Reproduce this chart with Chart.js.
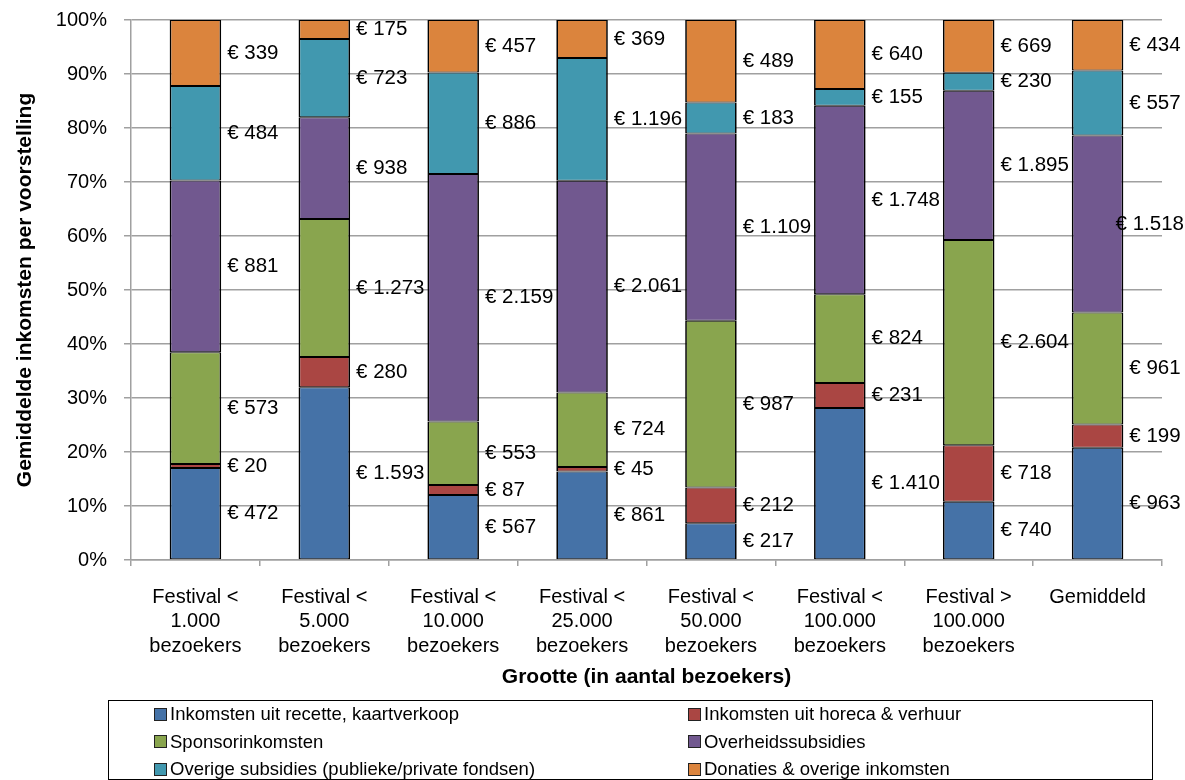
<!DOCTYPE html>
<html lang="nl">
<head>
<meta charset="utf-8">
<title>Gemiddelde inkomsten per voorstelling</title>
<script src="https://cdn.jsdelivr.net/npm/chart.js@4.4.0/dist/chart.umd.min.js"></script>
<style>
    html, body { margin: 0; padding: 0; background: #fff; }
    #wrap { position: relative; width: 1185px; height: 780px; overflow: hidden; }
    #chart { position: absolute; left: 0; top: 0; }
    #legend {
        position: absolute; left: 108px; top: 700px; width: 1045px; height: 80px;
        border: 1.5px solid #000; box-sizing: border-box;
        font-family: "Liberation Sans", Arial, sans-serif; font-size: 18.5px; color: #000;
    }
    .legend-item { position: absolute; display: flex; align-items: center; white-space: nowrap; height: 22px; }
    .legend-item span.box { width: 11px; height: 11px; border: 1px solid #222; margin-right: 3px; }
</style>
</head>
<body>
<div id="wrap">
    <canvas id="chart" width="1185" height="780"></canvas>
    <div id="legend"></div>
</div>
<script>
// Categories (festival size) and the average amounts in euro per performance
const categories = [
    ['Festival <', '1.000', 'bezoekers'],
    ['Festival <', '5.000', 'bezoekers'],
    ['Festival <', '10.000', 'bezoekers'],
    ['Festival <', '25.000', 'bezoekers'],
    ['Festival <', '50.000', 'bezoekers'],
    ['Festival <', '100.000', 'bezoekers'],
    ['Festival >', '100.000', 'bezoekers'],
    ['Gemiddeld']
];

const recette          = [472, 1593, 567, 861, 217, 1410, 740, 963];
const horeca           = [20, 280, 87, 45, 212, 231, 718, 199];
const sponsor          = [573, 1273, 553, 724, 987, 824, 2604, 961];
const overheid         = [881, 938, 2159, 2061, 1109, 1748, 1895, 1518];
const overigeSubsidies = [484, 723, 886, 1196, 183, 155, 230, 557];
const donaties         = [339, 175, 457, 369, 489, 640, 669, 434];

const seriesNames = [
    'Inkomsten uit recette, kaartverkoop',
    'Inkomsten uit horeca & verhuur',
    'Sponsorinkomsten',
    'Overheidssubsidies',
    'Overige subsidies (publieke/private fondsen)',
    'Donaties & overige inkomsten'
];
const seriesValues = [recette, horeca, sponsor, overheid, overigeSubsidies, donaties];
const seriesColors = ['#4572a7', '#aa4643', '#89a54e', '#71588f', '#4198af', '#db843d'];

const FONT = '"Liberation Sans", Arial, Helvetica, sans-serif';

// 1234 -> "1.234"
function formatEuro(v) {
    return String(v).replace(/\B(?=(\d{3})+(?!\d))/g, '.');
}

// totals per category, used to turn amounts into a 100% stack
const totals = categories.map((c, j) => seriesValues.reduce((s, arr) => s + arr[j], 0));

const datasets = seriesValues.map((arr, i) => ({
    label: seriesNames[i],
    amounts: arr,
    data: arr.map((v, j) => v / totals[j] * 100),
    backgroundColor: seriesColors[i],
    borderColor: '#000',
    borderWidth: { top: 1, bottom: 1, left: 1.7, right: 1.7 },
    borderSkipped: false,
    categoryPercentage: 1,
    barPercentage: 0.4
}));

/**
 * Writes "€ amount" to the right of every bar segment.
 */
const valueLabels = {
    id: 'valueLabels',
    afterDatasetsDraw(chart) {
        const ctx = chart.ctx;
        ctx.save();
        ctx.font = '20.5px ' + FONT;
        ctx.fillStyle = '#000';
        ctx.textAlign = 'left';
        ctx.textBaseline = 'middle';
        chart.data.datasets.forEach((ds, i) => {
            chart.getDatasetMeta(i).data.forEach((bar, j) => {
                const text = '€ ' + formatEuro(ds.amounts[j]);
                const w = ctx.measureText(text).width;
                let x = bar.x + bar.width / 2 + 6;
                if (x + w > chart.width - 1) x = chart.width - 1 - w;
                ctx.fillText(text, x, (bar.y + bar.base) / 2);
            });
        });
        ctx.restore();
    }
};

new Chart(document.getElementById('chart'), {
    type: 'bar',
    data: { labels: categories, datasets: datasets },
    options: {
        responsive: false,
        animation: false,
        layout: { padding: { top: 20, right: 23, bottom: 0, left: 0 } },
        plugins: {
            legend: { display: false },
            tooltip: { enabled: false }
        },
        scales: {
            x: {
                stacked: true,
                afterFit: scale => { scale.height = 220; },
                grid: {
                    offset: true,
                    drawOnChartArea: false,
                    tickLength: 6,
                    color: '#a0a0a0',
                    lineWidth: 1.5
                },
                border: { color: '#a0a0a0', width: 1.5 },
                ticks: {
                    color: '#000',
                    padding: 19,
                    maxRotation: 0,
                    autoSkip: false,
                    font: { family: FONT, size: 20, lineHeight: 1.22 }
                },
                title: {
                    display: true,
                    text: 'Grootte (in aantal bezoekers)',
                    color: '#000',
                    font: { family: FONT, size: 21, weight: 'bold', lineHeight: 1.2 },
                    padding: { top: 0, bottom: 90 }
                }
            },
            y: {
                stacked: true,
                min: 0,
                max: 100,
                // fixed axis width; the top label may overhang the layout padding
                afterFit: scale => {
                    scale.width = 131;
                    scale.paddingTop = 0;
                    scale.paddingBottom = 0;
                },
                grid: { color: '#a0a0a0', lineWidth: 1.5, tickLength: 7 },
                border: { color: '#a0a0a0', width: 1.5 },
                ticks: {
                    stepSize: 10,
                    color: '#000',
                    padding: 17,
                    font: { family: FONT, size: 20 },
                    callback: v => v + '%'
                },
                title: {
                    display: true,
                    text: 'Gemiddelde inkomsten per voorstelling',
                    color: '#000',
                    font: { family: FONT, size: 21, weight: 'bold', lineHeight: 1.2 },
                    padding: { top: 13, bottom: 0 }
                }
            }
        }
    },
    plugins: [valueLabels]
});

// Legend: two columns, three rows
const legendEl = document.getElementById('legend');
seriesNames.forEach((name, i) => {
    const item = document.createElement('div');
    item.className = 'legend-item';
    item.style.left = (i % 2 === 0 ? 45 : 579) + 'px';
    item.style.top = (2 + Math.floor(i / 2) * 27.5) + 'px';
    item.innerHTML = '<span class="box" style="background:' + seriesColors[i] + '"></span>' + name;
    legendEl.appendChild(item);
});
</script>
</body>
</html>
